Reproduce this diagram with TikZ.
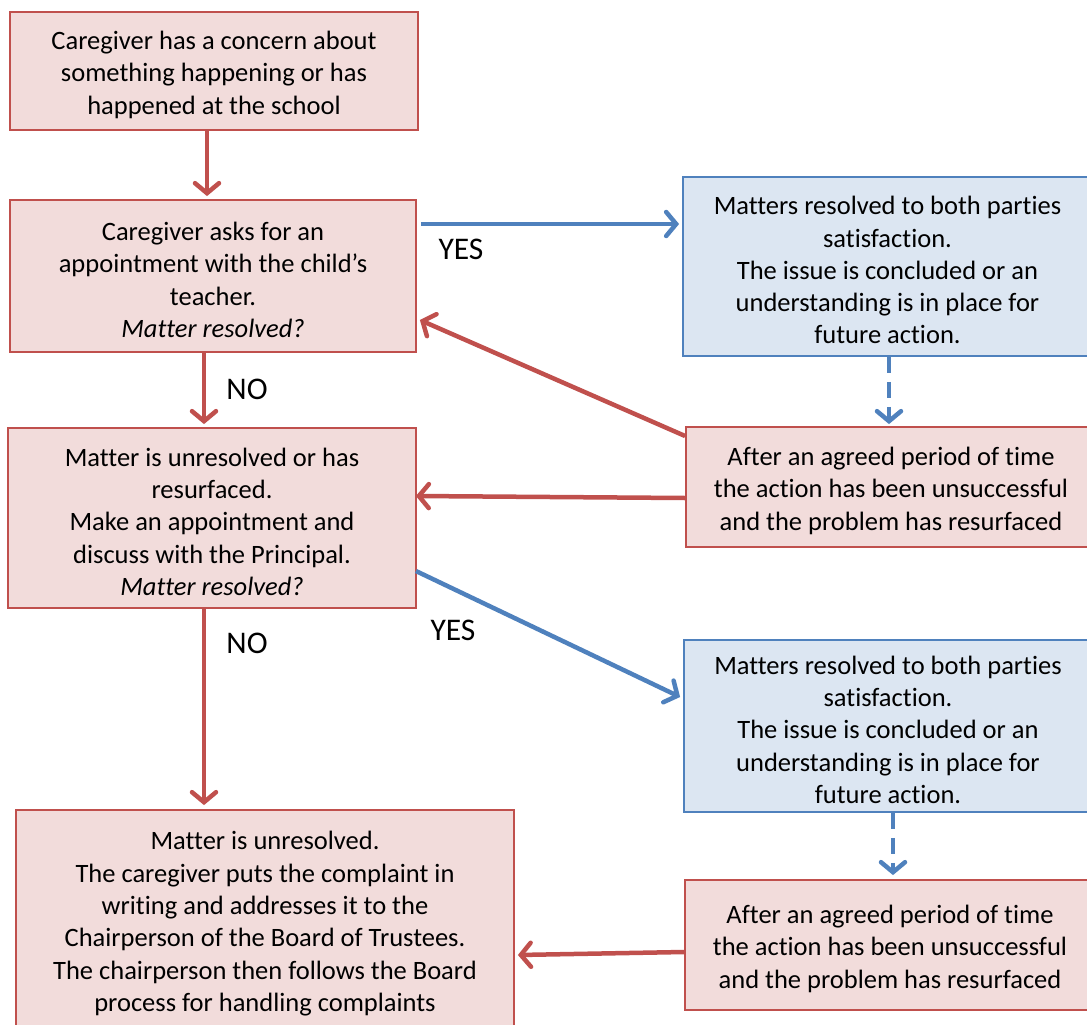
\documentclass[tikz,border=0pt]{standalone}
\usepackage{fontspec}
\setmainfont[Ligatures={NoCommon}]{Carlito}
\usetikzlibrary{arrows.meta}
\definecolor{rfill}{HTML}{F2DCDB}
\definecolor{rline}{HTML}{C0504D}
\definecolor{bfill}{HTML}{DCE6F2}
\definecolor{bline}{HTML}{4F81BD}
\newcommand{\topstrut}{\rule{0pt}{26pt}}
\tikzset{
  redbox/.style={draw=rline, fill=rfill, line width=1.8pt, align=center, inner sep=0pt,
    font=\fontsize{26.5}{32.3}\selectfont},
  bluebox/.style={draw=bline, fill=bfill, line width=1.8pt, align=center, inner sep=0pt,
    font=\fontsize{26.5}{32.3}\selectfont},
  redarrow/.style={draw=rline, line width=4.5pt, -{Straight Barb[length=10pt,width=24pt,line cap=round]}},
  bluearrow/.style={draw=bline, line width=4.5pt, -{Straight Barb[length=10pt,width=24pt,line cap=round]}},
  lbl/.style={font=\fontsize{31.5}{36}\selectfont, inner sep=0pt}
}
\begin{document}
\begin{tikzpicture}[x=1pt,y=-1pt]
\useasboundingbox (0,0) rectangle (1087,1025);
\node[redbox, minimum width=408pt, minimum height=118pt] (b1) at (214,71)
  {\topstrut Caregiver has a concern about\\something happening or has\\happened at the school};
\node[redbox, minimum width=406pt, minimum height=152pt] (b2) at (213,276)
  {\topstrut Caregiver asks for an\\appointment with the child’s\\teacher.\\\textit{Matter resolved?}};
\node[bluebox, minimum width=409pt, minimum height=179pt] (b3) at (887.5,266.5)
  {\topstrut Matters resolved to both parties\\satisfaction.\\The issue is concluded or an\\understanding is in place for\\future action.};
\node[redbox, minimum width=410pt, minimum height=120pt] (b4) at (891,487)
  {\topstrut After an agreed period of time\\the action has been unsuccessful\\and the problem has resurfaced};
\node[redbox, minimum width=408pt, minimum height=180pt] (b5) at (212,518)
  {\topstrut Matter is unresolved or has\\resurfaced.\\Make an appointment and\\discuss with the Principal.\\\textit{Matter resolved?}};
\node[bluebox, minimum width=408pt, minimum height=172pt] (b6) at (888,726)
  {\topstrut Matters resolved to both parties\\satisfaction.\\The issue is concluded or an\\understanding is in place for\\future action.};
\node[redbox, minimum width=498pt, minimum height=220pt] (b7) at (265,920)
  {\topstrut Matter is unresolved.\\The caregiver puts the complaint in\\writing and addresses it to the\\Chairperson of the Board of Trustees.\\The chairperson then follows the Board\\process for handling complaints};
\node[redbox, minimum width=410pt, minimum height=130pt] (b8) at (890,945)
  {\topstrut After an agreed period of time\\the action has been unsuccessful\\and the problem has resurfaced};
\node[lbl] (yes1) at (461,249) {YES};
\node[lbl] (no1) at (247,389) {NO};
\node[lbl] (yes2) at (453,630) {YES};
\node[lbl] (no2) at (247,643) {NO};
% connectors
\draw[redarrow] ([xshift=-7pt]b1.south) -- ([xshift=-6pt,yshift=3pt]b2.north);
\draw[bluearrow] ([xshift=4pt,yshift=52pt]b2.east) -- ([xshift=-3pt,yshift=42.5pt]b3.west);
\draw[bluearrow, dashed, dash pattern=on 16pt off 9pt] ([xshift=1.5pt]b3.south) -- ([xshift=-2pt,yshift=2pt]b4.north);
\draw[redarrow] ([yshift=51pt]b4.west) -- ([xshift=3pt,yshift=-44pt]b2.east);
\draw[redarrow] ([yshift=-11pt]b4.west) -- ([xshift=-1pt,yshift=22pt]b5.east);
\draw[redarrow] ([xshift=-9pt]b2.south) -- ([xshift=-8pt,yshift=3pt]b5.north);
\draw[bluearrow] ([xshift=-1pt,yshift=-53pt]b5.east) -- ([xshift=-3pt,yshift=29pt]b6.west);
\draw[redarrow] ([xshift=-8pt]b5.south) -- ([xshift=-61pt,yshift=4pt]b7.north);
\draw[bluearrow, dashed, dash pattern=on 16pt off 9pt] ([xshift=5pt]b6.south) -- ([xshift=3pt,yshift=4pt]b8.north);
\draw[redarrow] ([yshift=-7pt]b8.west) -- ([xshift=3pt,yshift=-35pt]b7.east);
\end{tikzpicture}
\end{document}
